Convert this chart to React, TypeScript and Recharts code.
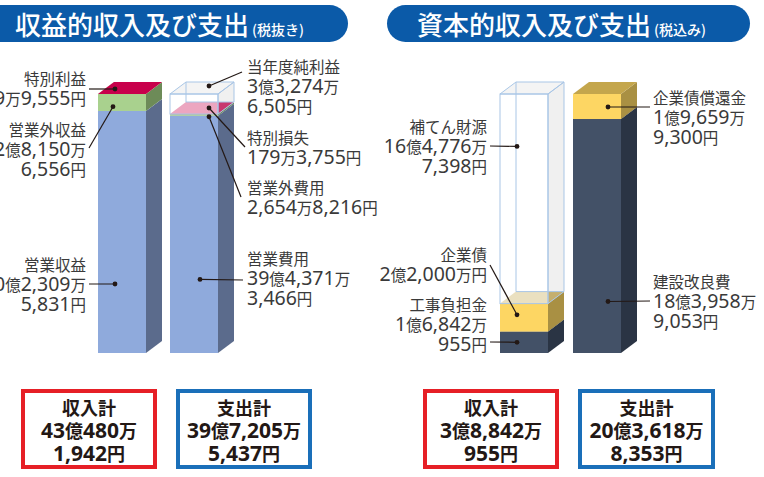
import React from 'react';
import { BarChart, Bar, XAxis, YAxis, LabelList } from 'recharts';

// 収益的収入及び支出（税抜き）, 円
const categories = ['収入', '支出'];
const eigyoShueki = [4023095831, 0];
const eigyogaiShueki = [281506556, 0];
const tokubetsuRieki = [199555, 0];
const eigyoHiyo = [0, 3943713466];
const eigyogaiHiyo = [0, 26548216];
const tokubetsuSonshitsu = [0, 1793755];
const junRieki = [0, 332746505];

// 資本的収入及び支出（税込み）, 円
const kojiFutankin = [168420955, 0];
const kigyosai = [220000000, 0];
const hotenZaigen = [1647767398, 0];
const kensetsuKairyo = [0, 1839589053];
const kigyosaiShokan = [0, 196599300];

// label texts
const lblTokubetsuRieki = ['特別利益', '19万9,555円'];
const lblEigyogaiShueki = ['営業外収益', '2億8,150万', '6,556円'];
const lblEigyoShueki = ['営業収益', '40億2,309万', '5,831円'];
const lblJunRieki = ['当年度純利益', '3億3,274万', '6,505円'];
const lblTokubetsuSonshitsu = ['特別損失', '179万3,755円'];
const lblEigyogaiHiyo = ['営業外費用', '2,654万8,216円'];
const lblEigyoHiyo = ['営業費用', '39億4,371万', '3,466円'];
const lblHotenZaigen = ['補てん財源', '16億4,776万', '7,398円'];
const lblKigyosai = ['企業債', '2億2,000万円'];
const lblKojiFutankin = ['工事負担金', '1億6,842万', '955円'];
const lblShokan = ['企業債償還金', '1億9,659万', '9,300円'];
const lblKensetsu = ['建設改良費', '18億3,958万', '9,053円'];

const totalShueki1 = ['収入計', '43億480万', '1,942円'];
const totalShishutsu1 = ['支出計', '39億7,205万', '5,437円'];
const totalShueki2 = ['収入計', '3億8,842万', '955円'];
const totalShishutsu2 = ['支出計', '20億3,618万', '8,353円'];

const leftData = categories.map((name, i) => ({
  name,
  eigyoShueki: eigyoShueki[i],
  eigyogaiShueki: eigyogaiShueki[i],
  tokubetsuRieki: tokubetsuRieki[i],
  eigyoHiyo: eigyoHiyo[i],
  eigyogaiHiyo: eigyogaiHiyo[i],
  tokubetsuSonshitsu: tokubetsuSonshitsu[i],
  junRieki: junRieki[i],
}));

const rightData = categories.map((name, i) => ({
  name,
  kojiFutankin: kojiFutankin[i],
  kigyosai: kigyosai[i],
  hotenZaigen: hotenZaigen[i],
  kensetsuKairyo: kensetsuKairyo[i],
  kigyosaiShokan: kigyosaiShokan[i],
}));

const DX = 16;
const DY = 12;
const INK = '#231815';
const TXT = '#3a3a3a';
const CJK = "'Noto Sans CJK JP', sans-serif";
const LAT = "'Noto Sans', 'Noto Sans CJK JP', sans-serif";

type Pal = { front?: string; side?: string; top?: string; glass?: boolean };

const blue: Pal = { front: '#8faadc', side: '#5b6b8c', top: '#b4c7e7' };
const green: Pal = { front: '#a9d18e', side: '#6d8b58', top: '#c5e0b4' };
const crimson: Pal = { front: '#c8004b', side: '#8c0035', top: '#c8004b' };
const navy: Pal = { front: '#435167', side: '#2a3444', top: '#5b677c' };
const gold: Pal = { front: '#fdd663', side: '#a99043', top: '#c4a64c' };
const glass: Pal = { glass: true };
const GLASS_EDGE = '#a9c6e6';

const blockShape = (key: string, pal: Pal) => (p: any) => {
  const v = p.payload ? p.payload[key] : 0;
  if (!v) return <g />;
  const x = p.x, y = p.y, w = p.width, h = p.height;
  const side = `${x + w},${y} ${x + w + DX},${y - DY} ${x + w + DX},${y + h - DY} ${x + w},${y + h}`;
  const top = `${x},${y} ${x + DX},${y - DY} ${x + w + DX},${y - DY} ${x + w},${y}`;
  if (pal.glass) {
    return (
      <g>
        <rect x={x} y={y} width={w} height={h} fill="#fff" fillOpacity={0.65} />
        <polygon points={side} fill="#c8c8c8" fillOpacity={0.28} />
        <polygon points={top} fill="#e6e6e6" fillOpacity={0.45} />
        <g stroke={GLASS_EDGE} strokeWidth={1} fill="none">
          <line x1={x + DX} y1={y - DY} x2={x + DX} y2={y + h - DY} />
          <line x1={x + DX} y1={y + h - DY} x2={x + w + DX} y2={y + h - DY} />
          <rect x={x} y={y} width={w} height={h} />
          <polygon points={side} />
          <polygon points={top} />
        </g>
      </g>
    );
  }
  return (
    <g>
      <rect x={x} y={y} width={w} height={h} fill={pal.front} />
      <polygon points={side} fill={pal.side} />
      <polygon points={top} fill={pal.top} />
    </g>
  );
};

// split into digit runs (larger latin font) and kanji runs
const runs = (s: string) => s.split(/([0-9,]+)/).filter((r) => r.length > 0);

const MixedText = ({ x, y, text, anchor }: { x: number; y: number; text: string; anchor: string }) => (
  <text x={x} y={y + 6} textAnchor={anchor} fill={TXT}>
    {runs(text).map((r, i) =>
      /[0-9]/.test(r) ? (
        <tspan key={i} fontFamily={LAT} fontSize={19.5}>{r}</tspan>
      ) : (
        <tspan key={i} fontFamily={CJK} fontSize={15.5}>{r}</tspan>
      )
    )}
  </text>
);

type LabelCfg = {
  lines: string[];
  index: number;
  ox: number;
  oy?: number;
  fy?: number;
  ex: number;
  ey: number;
  tx: number;
  ty: number;
  anchor: 'start' | 'end';
};

const callout = (c: LabelCfg) => (p: any) => {
  if (p.index !== c.index) return null;
  const vb = p.viewBox && p.viewBox.width != null ? p.viewBox : p;
  const { x, y, height } = vb;
  const dx = x + c.ox;
  const dy = c.fy != null ? y + height * c.fy : y + (c.oy || 0);
  return (
    <g>
      <line x1={dx} y1={dy} x2={c.ex} y2={c.ey} stroke={INK} strokeWidth={1.2} />
      <circle cx={dx} cy={dy} r={2.4} fill={INK} />
      {c.lines.map((t, i) => (
        <MixedText key={i} x={c.tx} y={c.ty + i * 20} text={t} anchor={c.anchor} />
      ))}
    </g>
  );
};

type Series = { key: string; pal: Pal; label: LabelCfg };

const leftSeries: Series[] = [
  { key: 'eigyoShueki', pal: blue, label: { lines: lblEigyoShueki, index: 0, ox: 17, fy: 0.715, ex: 89, ey: 284, tx: 86, ty: 265, anchor: 'end' } },
  { key: 'eigyogaiShueki', pal: green, label: { lines: lblEigyogaiShueki, index: 0, ox: 15, fy: 0.75, ex: 89, ey: 148, tx: 86, ty: 130, anchor: 'end' } },
  { key: 'tokubetsuRieki', pal: crimson, label: { lines: lblTokubetsuRieki, index: 0, ox: 17, oy: -5, ex: 89, ey: 89, tx: 86, ty: 79, anchor: 'end' } },
  { key: 'eigyoHiyo', pal: blue, label: { lines: lblEigyoHiyo, index: 1, ox: 30, fy: 0.69, ex: 243, ey: 280, tx: 247, ty: 259, anchor: 'start' } },
  { key: 'eigyogaiHiyo', pal: green, label: { lines: lblEigyogaiHiyo, index: 1, ox: 39, oy: 2.6, ex: 241, ey: 197, tx: 247, ty: 188, anchor: 'start' } },
  { key: 'tokubetsuSonshitsu', pal: crimson, label: { lines: lblTokubetsuSonshitsu, index: 1, ox: 39, oy: -6, ex: 245, ey: 147, tx: 247, ty: 138, anchor: 'start' } },
  { key: 'junRieki', pal: glass, label: { lines: lblJunRieki, index: 1, ox: 39, oy: -8, ex: 242, ey: 72, tx: 247, ty: 67, anchor: 'start' } },
];

const rightSeries: Series[] = [
  { key: 'kojiFutankin', pal: navy, label: { lines: lblKojiFutankin, index: 0, ox: 17, fy: 0.5, ex: 110, ey: 342, tx: 107, ty: 305, anchor: 'end' } },
  { key: 'kigyosai', pal: gold, label: { lines: lblKigyosai, index: 0, ox: 17, fy: 0.4, ex: 110, ey: 265, tx: 107, ty: 255, anchor: 'end' } },
  { key: 'hotenZaigen', pal: glass, label: { lines: lblHotenZaigen, index: 0, ox: 17, fy: 0.25, ex: 110, ey: 146, tx: 107, ty: 127, anchor: 'end' } },
  { key: 'kensetsuKairyo', pal: navy, label: { lines: lblKensetsu, index: 1, ox: 35, fy: 0.78, ex: 270, ey: 301, tx: 273, ty: 282, anchor: 'start' } },
  { key: 'kigyosaiShokan', pal: gold, label: { lines: lblShokan, index: 1, ox: 35, fy: 0.52, ex: 270, ey: 107, tx: 273, ty: 98, anchor: 'start' } },
];

const Stack3D = ({ data, series, width, margin }: { data: any[]; series: Series[]; width: number; margin: any }) => (
  <BarChart width={width} height={380} data={data} margin={margin} barSize={48}>
    <XAxis dataKey="name" hide />
    <YAxis hide domain={[0, 'dataMax']} />
    {series.map((s) => (
      <Bar key={s.key} dataKey={s.key} stackId="a" shape={blockShape(s.key, s.pal)} isAnimationActive={false}>
        <LabelList dataKey={s.key} content={callout(s.label)} />
      </Bar>
    ))}
  </BarChart>
);

const Banner = ({ left, width, textLeft, title, note }: any) => (
  <div
    style={{
      position: 'absolute', left, top: 5, width, height: 37, borderRadius: 19,
      background: '#0b5aa8', color: '#fff', boxSizing: 'border-box',
      paddingLeft: textLeft - left, lineHeight: '37px', whiteSpace: 'nowrap',
    }}
  >
    <span style={{ fontSize: 26, fontWeight: 500, fontFamily: CJK }}>{title}</span>
    <span style={{ fontSize: 14, fontWeight: 500, fontFamily: CJK, marginLeft: 3 }}>{note}</span>
  </div>
);

const TotalBox = ({ left, width, color, lines }: any) => (
  <div
    style={{
      position: 'absolute', left, top: 389, width, height: 80, boxSizing: 'border-box',
      border: `4px solid ${color}`, textAlign: 'center', paddingTop: 4,
      lineHeight: '21px', color: INK, fontWeight: 700,
    }}
  >
    {lines.map((t: string, i: number) => (
      <div key={i}>
        {runs(t).map((r, j) =>
          /[0-9]/.test(r) ? (
            <span key={j} style={{ fontFamily: LAT, fontSize: 21 }}>{r}</span>
          ) : (
            <span key={j} style={{ fontFamily: CJK, fontSize: 18 }}>{r}</span>
          )
        )}
      </div>
    ))}
  </div>
);

export default function App() {
  return (
    <div style={{ position: 'absolute', left: 0, top: 0, width: 764, height: 477, overflow: 'hidden', background: '#fff' }}>
      <Banner left={-30} width={378} textLeft={15} title="収益的収入及び支出" note="(税抜き)" />
      <Banner left={387} width={363} textLeft={417} title="資本的収入及び支出" note="(税込み)" />

      <div style={{ position: 'absolute', left: 0, top: 0 }}>
        <Stack3D data={leftData} series={leftSeries} width={380} margin={{ top: 94, bottom: 27, left: 86, right: 150 }} />
      </div>
      <div style={{ position: 'absolute', left: 380, top: 0 }}>
        <Stack3D data={rightData} series={rightSeries} width={384} margin={{ top: 94, bottom: 27, left: 107, right: 131 }} />
      </div>

      <TotalBox left={21} width={136} color="#e61f26" lines={totalShueki1} />
      <TotalBox left={176} width={136} color="#1a6fb9" lines={totalShishutsu1} />
      <TotalBox left={423} width={136} color="#e61f26" lines={totalShueki2} />
      <TotalBox left={578} width={137} color="#1a6fb9" lines={totalShishutsu2} />
    </div>
  );
}
